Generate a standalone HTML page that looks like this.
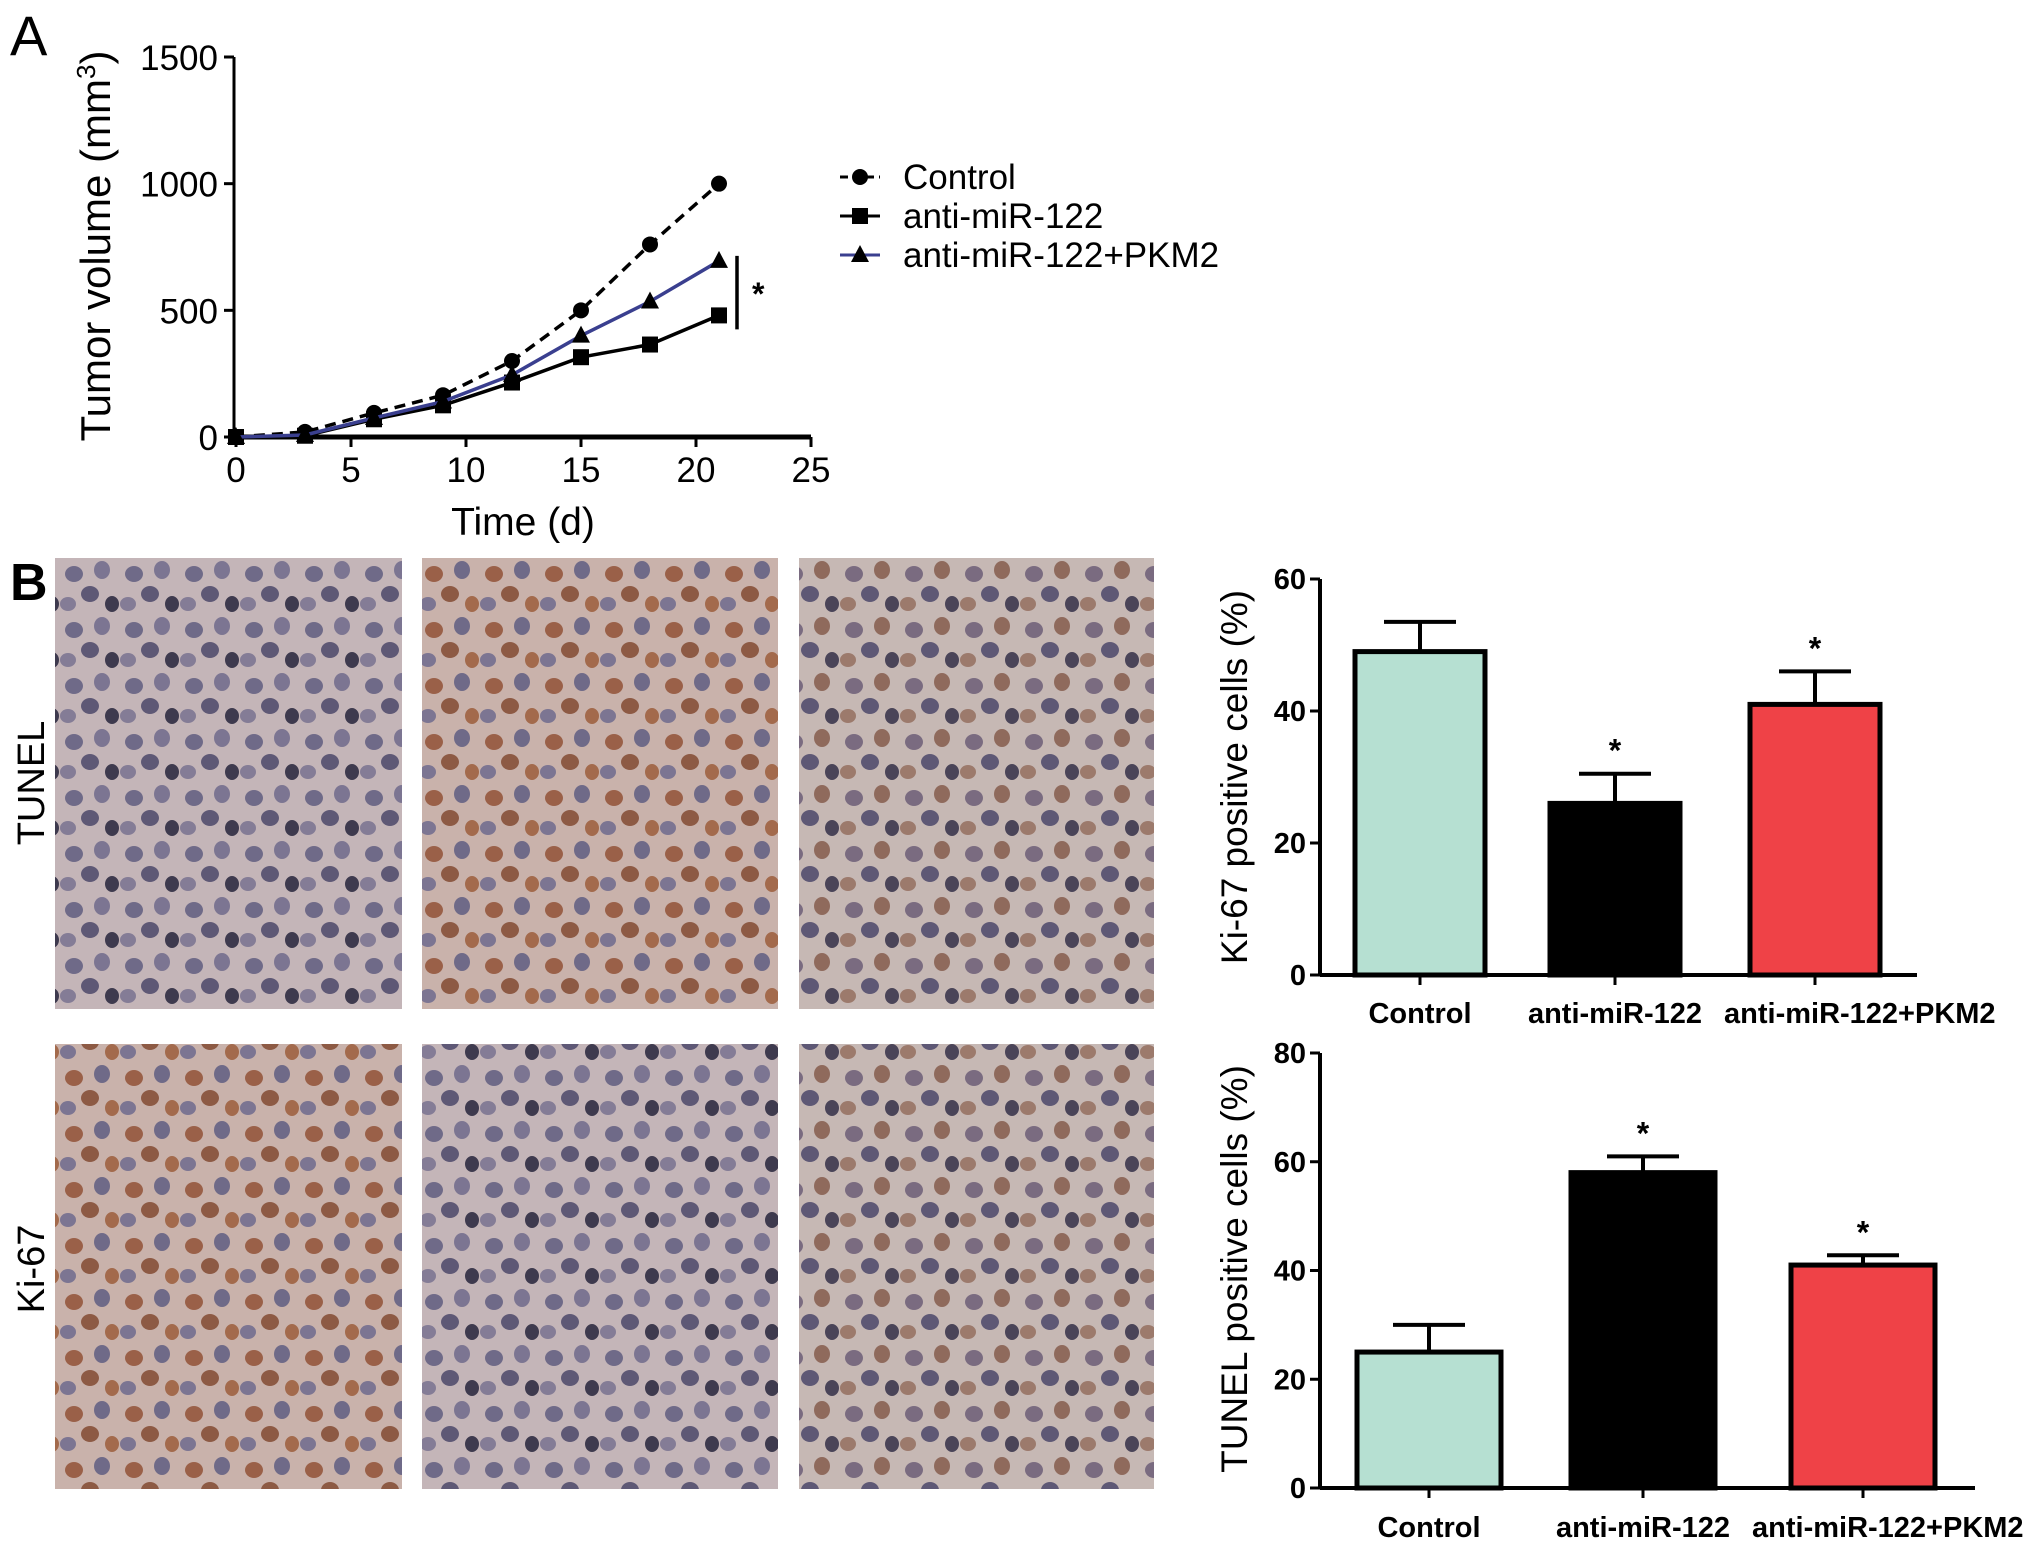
<!DOCTYPE html>
<html><head><meta charset="utf-8">
<style>
html,body{margin:0;padding:0;background:#fff;}
svg{display:block;}
text{font-family:"Liberation Sans",Arial,sans-serif;}
</style></head>
<body>
<svg id="fig" width="2031" height="1546" viewBox="0 0 2031 1546" xmlns="http://www.w3.org/2000/svg">
<defs>
<pattern id="cellsA" width="60" height="56" patternUnits="userSpaceOnUse">
<rect width="60" height="56" fill="#c4b5b8"/>
<ellipse cx="14" cy="14" rx="9" ry="8" fill="#6f6a88"/>
<ellipse cx="42" cy="10" rx="8" ry="9" fill="#7c7592"/>
<ellipse cx="30" cy="34" rx="9" ry="8" fill="#5e5875"/>
<ellipse cx="8" cy="44" rx="8" ry="7" fill="#847c96"/>
<ellipse cx="52" cy="44" rx="7" ry="8" fill="#3e3a4e"/>
</pattern>
<pattern id="cellsB" width="60" height="56" patternUnits="userSpaceOnUse">
<rect width="60" height="56" fill="#c9b2ab"/>
<ellipse cx="14" cy="14" rx="9" ry="8" fill="#9a6048"/>
<ellipse cx="42" cy="10" rx="8" ry="9" fill="#6f6a88"/>
<ellipse cx="30" cy="34" rx="9" ry="8" fill="#8d5a44"/>
<ellipse cx="8" cy="44" rx="8" ry="7" fill="#7c7592"/>
<ellipse cx="52" cy="44" rx="7" ry="8" fill="#a36a4c"/>
</pattern>
<pattern id="cellsC" width="60" height="56" patternUnits="userSpaceOnUse">
<rect width="60" height="56" fill="#c6b8b4"/>
<ellipse cx="14" cy="14" rx="9" ry="8" fill="#7a6b80"/>
<ellipse cx="42" cy="10" rx="8" ry="9" fill="#8f6a5c"/>
<ellipse cx="30" cy="34" rx="9" ry="8" fill="#5e5875"/>
<ellipse cx="8" cy="44" rx="8" ry="7" fill="#9c7a6c"/>
<ellipse cx="52" cy="44" rx="7" ry="8" fill="#4a4458"/>
</pattern>
</defs>

<text x="10" y="55" font-size="56">A</text>
<text x="10" y="600" font-size="52" font-weight="bold">B</text>

<g id="lineChart"></g>
<g id="micro">
<rect x="55" y="558" width="347" height="451" fill="url(#cellsA)"/>
<rect x="422" y="558" width="356" height="451" fill="url(#cellsB)"/>
<rect x="799" y="558" width="355" height="451" fill="url(#cellsC)"/>
<rect x="55" y="1044" width="347" height="445" fill="url(#cellsB)"/>
<rect x="422" y="1044" width="356" height="445" fill="url(#cellsA)"/>
<rect x="799" y="1044" width="355" height="445" fill="url(#cellsC)"/>
<text transform="translate(44,783) rotate(-90)" font-size="38" text-anchor="middle">TUNEL</text>
<text transform="translate(44,1269) rotate(-90)" font-size="38" text-anchor="middle">Ki-67</text>
</g>
<g id="bar1"></g>
<g id="bar2"></g>
</svg>
<script>
// ---- Line chart data ----
const days = [0,3,6,9,12,15,18,21];
const controlVals = [0,20,95,165,300,500,760,1000];
const antiVals = [0,5,70,125,215,315,365,480];
const pkmVals = [0,8,75,140,245,400,535,695];
const xTicks = [0,5,10,15,20,25];
const yTicks = [0,500,1000,1500];
// ---- Bar chart data ----
const barCats = ['Control','anti-miR-122','anti-miR-122+PKM2'];
const ki67Vals = [49,26,41];
const ki67Err = [4.5,4.5,5];
const ki67Sig = [false,true,true];
const ki67Ticks = [0,20,40,60];
const tunelVals = [25,58,41];
const tunelErr = [5,3,1.8];
const tunelSig = [false,true,true];
const tunelTicks = [0,20,40,60,80];
const barColors = ['#b6e0d2','#000000','#ef4247'];

const NS='http://www.w3.org/2000/svg';
function mk(parent,tag,attrs,txt){const e=document.createElementNS(NS,tag);for(const k in attrs)e.setAttribute(k,attrs[k]);if(txt!==undefined)e.textContent=txt;parent.appendChild(e);return e;}

// Line chart
(function(){
const g=document.getElementById('lineChart');
const x0=236,x1=811,y0=437,y1=57;
const sx=v=>x0+(v-0)/(25-0)*(x1-x0);
const sy=v=>y0-(v-0)/(1500-0)*(y0-y1);
let e=mk(g,'line',{x1:234,y1:y1,x2:234,y2:y0,stroke:'#000','stroke-width':3});


e=mk(g,'line',{x1:234,y1:y0,x2:x1,y2:y0,stroke:'#000','stroke-width':5});


yTicks.forEach(t=>{
 mk(g,'line',{x1:224,y1:sy(t),x2:234,y2:sy(t),stroke:'#000','stroke-width':3});
 e=mk(g,'text',{x:218,y:sy(t)+13,'font-size':35,'text-anchor':'end'},t);
 
 
});
xTicks.forEach(t=>{
 mk(g,'line',{x1:sx(t),y1:y0,x2:sx(t),y2:y0+10,stroke:'#000','stroke-width':3});
 e=mk(g,'text',{x:sx(t),y:482,'font-size':35,'text-anchor':'middle'},t);
 
 
});
e=mk(g,'text',{x:523,y:535,'font-size':39,'text-anchor':'middle'},'Time (d)');


e=mk(g,'text',{transform:'translate(110,246) rotate(-90)','font-size':42,'text-anchor':'middle'});
e.innerHTML='Tumor volume (mm<tspan dy="-15" font-size="26">3</tspan><tspan dy="15">)</tspan>';


const series=[
 {vals:controlVals,color:'#000',dash:'11,7',mark:'circle',name:'control'},
 {vals:antiVals,color:'#000',dash:'',mark:'square',name:'anti-mir-122'},
 {vals:pkmVals,color:'#3a3f8f',dash:'',mark:'triangle',name:'anti-mir-122-pkm2'}];
function marker(p,type,x,y,name){
 let m;
 if(type==='circle')m=mk(p,'circle',{cx:x,cy:y,r:8,fill:'#000'});
 else if(type==='square')m=mk(p,'rect',{x:x-8,y:y-8,width:16,height:16,fill:'#000'});
 else m=mk(p,'polygon',{points:`${x},${y-10} ${x-9},${y+7} ${x+9},${y+7}`,fill:'#000'});
 
 
}
series.forEach(s=>{
 const pts=days.map((d,i)=>sx(d)+','+sy(s.vals[i])).join(' ');
 const l=mk(g,'polyline',{points:pts,fill:'none',stroke:s.color,'stroke-width':3.5,'stroke-dasharray':s.dash});
 
 
 days.forEach((d,i)=>marker(g,s.mark,sx(d),sy(s.vals[i]),s.name+'-point'));
});
// significance
e=mk(g,'line',{x1:737,y1:sy(pkmVals[7])-5,x2:737,y2:sy(antiVals[7])+14,stroke:'#000','stroke-width':3.5});


e=mk(g,'text',{x:752,y:305,'font-size':32,'font-weight':'bold'},'*');


// legend
const labels=['Control','anti-miR-122','anti-miR-122+PKM2'];
series.forEach((s,i)=>{
 const y=177+i*39;
 const lg=mk(g,'g',{});
 
 
 mk(lg,'line',{x1:840,y1:y,x2:880,y2:y,stroke:s.color,'stroke-width':3,'stroke-dasharray':s.dash?'8,5':''});
 marker(lg,s.mark,860,y,'legend-marker');
 mk(lg,'text',{x:903,y:y+12,'font-size':35},labels[i]);
});
})();

function barChart(gid,vals,errs,sig,ticks,ymax,x0,x1,y0,yTop,barX,barW,labelY,title,titleX,titleY){
 const g=document.getElementById(gid);
 const sy=v=>y0-v/ymax*(y0-yTop);
 let e=mk(g,'line',{x1:x0,y1:yTop,x2:x0,y2:y0,stroke:'#000','stroke-width':4});
 
 
 e=mk(g,'line',{x1:x0,y1:y0,x2:x1,y2:y0,stroke:'#000','stroke-width':4});
 
 
 ticks.forEach(t=>{
  mk(g,'line',{x1:x0-10,y1:sy(t),x2:x0,y2:sy(t),stroke:'#000','stroke-width':3});
  e=mk(g,'text',{x:x0-14,y:sy(t)+10,'font-size':29,'font-weight':'bold','text-anchor':'end'},t);
  
  
 });
 let prevEnd=-1e9;
 vals.forEach((v,i)=>{
  const bx=barX[i],cx=bx+barW/2;
  e=mk(g,'line',{x1:cx,y1:sy(v+errs[i]),x2:cx,y2:sy(v),stroke:'#000','stroke-width':4});
  
  
  e=mk(g,'line',{x1:cx-36,y1:sy(v+errs[i]),x2:cx+36,y2:sy(v+errs[i]),stroke:'#000','stroke-width':4});
  
  
  e=mk(g,'rect',{x:bx,y:sy(v),width:barW,height:y0-sy(v),fill:barColors[i],stroke:'#000','stroke-width':5});
  
  
  mk(g,'line',{x1:cx,y1:y0,x2:cx,y2:y0+10,stroke:'#000','stroke-width':3});
  if(sig[i]){
   e=mk(g,'text',{x:cx,y:sy(v+errs[i])-12,'font-size':32,'font-weight':'bold','text-anchor':'middle'},'*');
   
   
  }
  e=mk(g,'text',{x:cx,y:labelY,'font-size':29,'font-weight':'bold','text-anchor':'start'},barCats[i]);
  
  
  const w=e.getComputedTextLength();
  let lx=Math.max(cx-w/2,prevEnd+22);
  e.setAttribute('x',lx);
  prevEnd=lx+w;
 });
 e=mk(g,'text',{transform:`translate(${titleX},${titleY}) rotate(-90)`,'font-size':37,'text-anchor':'middle'},title);
 
 
}
barChart('bar1',ki67Vals,ki67Err,ki67Sig,ki67Ticks,60,1320,1917,975,579,[1355,1550,1750],130,1023,'Ki-67 positive cells (%)',1247,777);
barChart('bar2',tunelVals,tunelErr,tunelSig,tunelTicks,80,1320,1975,1488,1053,[1357,1571,1791],144,1537,'TUNEL positive cells (%)',1247,1269);
</script>
</body></html>
